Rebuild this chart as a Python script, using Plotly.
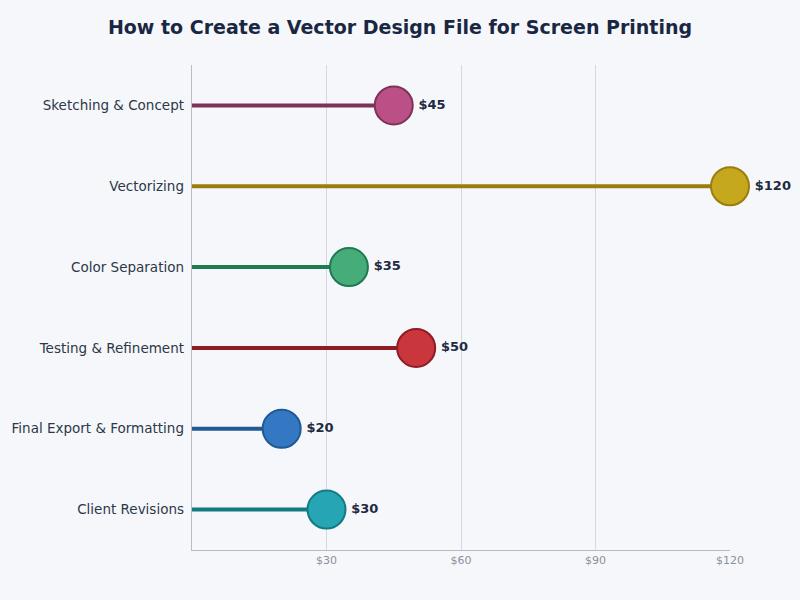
import plotly.graph_objects as go

categories = ["Sketching & Concept", "Vectorizing", "Color Separation",
              "Testing & Refinement", "Final Export & Formatting", "Client Revisions"]
costs = [45, 120, 35, 50, 20, 30]
line_colors = ["#7d3358", "#9a7d0a", "#1e7a50", "#8e1c24", "#1f5a94", "#137a84"]
marker_colors = ["#bb5087", "#c6a81e", "#46ad7a", "#c9363b", "#3478c4", "#26a6b5"]
tick_vals = [30, 60, 90, 120]
tick_text = ["$30", "$60", "$90", "$120"]

fig = go.Figure()
for cat, v, lc, mc in zip(categories, costs, line_colors, marker_colors):
    fig.add_trace(go.Scatter(x=[0, v], y=[cat, cat], mode="lines",
                             line=dict(color=lc, width=4), hoverinfo="skip",
                             showlegend=False, cliponaxis=False))
    fig.add_trace(go.Scatter(x=[v], y=[cat], mode="markers+text",
                             marker=dict(size=38, color=mc, line=dict(color=lc, width=2)),
                             text=[f"<b>${v}</b>"], textposition="middle right",
                             textfont=dict(size=13, color="#1e2a3e"),
                             showlegend=False, cliponaxis=False))

fig.update_layout(
    width=800, height=600,
    paper_bgcolor="#f5f7fb", plot_bgcolor="#f5f7fb",
    font=dict(family="DejaVu Sans", color="#2d3748"),
    title=dict(text="<b>How to Create a Vector Design File for Screen Printing</b>",
               x=0.5, xanchor="center", y=0.966, font=dict(size=19, color="#1a2742")),
    margin=dict(l=189, r=70, t=65, b=50),
    xaxis=dict(range=[0, 120], tickvals=tick_vals, ticktext=tick_text,
               showgrid=True, gridcolor="#d5d9df", zeroline=False,
               showline=True, linecolor="#b8bdc5",
               tickfont=dict(size=11, color="#8a919b")),
    yaxis=dict(categoryorder="array", categoryarray=categories[::-1],
               range=[-0.5, 5.5], showgrid=False, showline=True, linecolor="#b8bdc5",
               tickfont=dict(size=13.5, color="#2d3748"), ticksuffix=" "),
)
fig.write_html("out.html", config={"displayModeBar": False},
               post_script="document.body.style.margin='0';")
